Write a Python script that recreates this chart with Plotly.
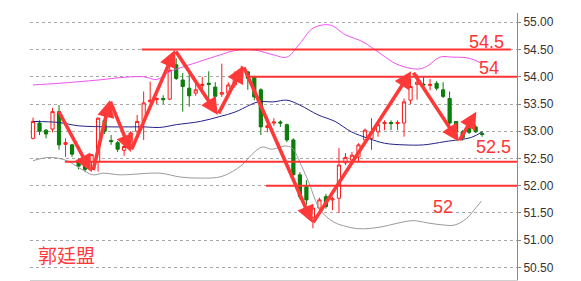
import plotly.graph_objects as go

# ---- candle data ----
opens = [52.87, 53.15, 53.02, 53.04, 53.36, 52.76, 52.75, 52.45, 52.38, 52.44,
         52.44, 53.20, 52.83, 52.79, 52.65, 52.75, 53.00, 53.18, 53.54, 53.58,
         53.60, 53.59, 54.22, 53.94, 53.79, 53.70, 53.84, 53.88, 53.81, 53.68,
         53.70, 53.85, 53.98, 54.09, 54.00, 53.76, 53.07, 53.15, 53.17, 53.12,
         52.84, 52.20, 51.98, 51.42, 51.59, 51.80, 51.74, 51.77, 52.42, 52.47,
         52.53, 52.84, 52.87, 52.99, 53.14, 53.16, 53.14, 53.15, 53.57, 53.86,
         53.86, 53.84, 53.88, 53.76, 53.60, 53.18, 52.99, 53.05, 53.08, 52.96]
highs = [53.25, 53.20, 53.04, 53.43, 53.48, 52.87, 52.77, 52.50, 52.42, 52.58,
         53.25, 53.30, 52.93, 52.82, 52.80, 53.00, 53.30, 53.73, 53.91, 53.62,
         53.66, 54.20, 54.34, 54.07, 54.09, 53.88, 54.00, 54.10, 53.90, 54.24,
         53.90, 54.10, 54.20, 54.10, 54.02, 53.79, 53.27, 53.24, 53.20, 53.14,
         52.87, 52.25, 52.10, 51.65, 51.78, 51.85, 51.80, 52.69, 52.60, 52.62,
         52.78, 53.05, 53.24, 53.12, 53.20, 53.20, 53.20, 53.60, 53.97, 54.05,
         54.00, 53.96, 53.92, 53.90, 53.73, 53.18, 53.02, 53.12, 53.12, 53.00]
lows = [52.85, 52.93, 52.87, 52.98, 52.66, 52.53, 52.53, 52.30, 52.25, 52.26,
        52.26, 52.95, 52.75, 52.62, 52.55, 52.70, 52.95, 52.84, 53.52, 53.50,
        53.50, 53.57, 53.94, 53.36, 53.45, 53.65, 53.75, 53.60, 53.58, 53.63,
        53.65, 53.80, 53.95, 53.76, 53.57, 52.93, 52.98, 53.10, 53.08, 52.80,
        52.29, 51.75, 51.65, 51.22, 51.55, 51.58, 51.55, 51.50, 52.38, 52.40,
        52.45, 52.78, 52.66, 52.90, 53.02, 53.02, 53.02, 52.90, 53.50, 53.58,
        53.82, 53.75, 53.75, 53.61, 53.02, 52.90, 52.83, 52.95, 52.97, 52.90]
closes = [53.18, 53.00, 52.95, 53.36, 52.75, 52.79, 52.58, 52.36, 52.30, 52.57,
          53.24, 53.00, 52.81, 52.67, 52.72, 52.97, 53.18, 53.52, 53.57, 53.60,
          53.58, 54.12, 53.97, 53.82, 53.65, 53.76, 53.86, 53.86, 53.64, 53.71,
          53.85, 54.00, 54.12, 53.97, 53.63, 53.08, 53.10, 53.17, 53.15, 52.84,
          52.20, 51.80, 51.74, 51.59, 51.74, 51.62, 51.76, 52.38, 52.52, 52.56,
          52.75, 53.02, 52.99, 53.12, 53.16, 53.14, 53.16, 53.54, 53.82, 53.90,
          53.85, 53.86, 53.79, 53.64, 53.15, 52.99, 52.88, 52.98, 52.99, 52.94]
candle_idx = list(range(len(opens)))

# ---- Bollinger bands (read points; candle index, value) ----
upper_idx = [0, 4, 10, 14, 17, 19, 21, 25.6, 28.7, 31, 34, 37, 39, 41, 43, 45.6,
             48, 50.7, 53.3, 55.9, 59, 60.5, 62.5, 64.5, 67, 69]
upper_val = [53.85, 53.88, 53.94, 53.99, 54.00, 53.95, 54.09, 54.28, 54.40, 54.48,
             54.49, 54.40, 54.36, 54.61, 54.89, 54.95, 54.77, 54.64, 54.43, 54.23,
             54.14, 54.19, 54.36, 54.36, 54.34, 54.24]
middle_idx = [0, 4, 7, 12, 17, 19.5, 22, 25.7, 28.7, 31, 33.3, 34.6, 37, 39, 41,
              43.8, 46.4, 48.9, 51.5, 54, 57, 60, 63.3, 67.4, 69]
middle_val = [53.18, 53.16, 53.10, 53.08, 53.08, 53.07, 53.12, 53.18, 53.27, 53.35,
              53.48, 53.54, 53.54, 53.57, 53.48, 53.30, 53.18, 52.99, 52.87, 52.78,
              52.75, 52.75, 52.81, 52.89, 52.99]
lower_idx = [0, 2.6, 5.2, 7.2, 9.2, 10.8, 13.4, 19.5, 22.6, 25.7, 29, 32.1, 33.6,
             35.2, 36.7, 38.7, 39.8, 41.3, 42.4, 44.1, 46.1, 48.2, 50.2, 53.3, 55.9,
             58.4, 60.5, 63, 64.8, 66.6, 68.2, 68.9]
lower_val = [52.46, 52.52, 52.46, 52.32, 52.20, 52.23, 52.20, 52.23, 52.16, 52.14,
             52.17, 52.38, 52.57, 52.71, 52.67, 52.73, 52.69, 52.35, 52.05, 51.56,
             51.34, 51.25, 51.21, 51.24, 51.31, 51.36, 51.32, 51.28, 51.28, 51.40,
             51.62, 51.72]

# ---- support / resistance levels ----
level_values = [54.5, 54.0, 52.44, 52.0]
level_from = [16.7, 33.0, 4.9, 35.8]
level_to = [73.4, 74.4, 74.4, 74.4]
level_labels = ["54.5", "54", "52.5", "52"]
label_idx = [69.7, 70.0, 70.7, 63.0]
label_val = [54.64, 54.16, 52.71, 51.61]

# ---- arrows (tail -> head) ----
arrow_from_idx = [3.84, 9.2, 11.8, 15.05, 21.8, 28.4, 32.3, 42.9, 58.3, 65.4]
arrow_from_val = [53.39, 52.26, 53.57, 52.64, 54.49, 53.30, 54.20, 51.30, 54.10, 52.81]
arrow_to_idx = [8.9, 11.8, 15.05, 21.8, 28.4, 32.3, 42.9, 58.1, 65.4, 68.1]
arrow_to_val = [52.26, 53.57, 52.62, 54.49, 53.30, 54.20, 51.32, 54.10, 52.81, 53.36]

watermark = "郭廷盟"
y_ticks = [50.5, 51.0, 51.5, 52.0, 52.5, 53.0, 53.5, 54.0, 54.5, 55.0]

XMIN, XMAX = -0.46, 74.35
YMIN, YMAX = 50.27, 55.17
RED = "#ff3333"

fig = go.Figure()

fig.add_trace(go.Scatter(x=upper_idx, y=upper_val, mode="lines",
                         line=dict(color="#f050f0", width=1, shape="spline"),
                         hoverinfo="skip", showlegend=False))
fig.add_trace(go.Scatter(x=middle_idx, y=middle_val, mode="lines",
                         line=dict(color="#22228a", width=1, shape="spline"),
                         hoverinfo="skip", showlegend=False))
fig.add_trace(go.Scatter(x=lower_idx, y=lower_val, mode="lines",
                         line=dict(color="#9a9a9a", width=1, shape="spline"),
                         hoverinfo="skip", showlegend=False))

fig.add_trace(go.Candlestick(
    x=candle_idx, open=opens, high=highs, low=lows, close=closes,
    increasing=dict(line=dict(color="#ff1a1a", width=1), fillcolor="#ffffff"),
    decreasing=dict(line=dict(color="#0a7a0a", width=1), fillcolor="#0a800a"),
    whiskerwidth=0, showlegend=False,
))

shapes = []
for v, a, b in zip(level_values, level_from, level_to):
    shapes.append(dict(type="line", xref="x", yref="y", x0=a, x1=min(b, XMAX),
                       y0=v, y1=v, line=dict(color=RED, width=2), layer="above"))

annotations = []
for ti, tv, hi, hv in zip(arrow_from_idx, arrow_from_val, arrow_to_idx, arrow_to_val):
    annotations.append(dict(x=hi, y=hv, ax=ti, ay=tv, xref="x", yref="y",
                            axref="x", ayref="y", text="", showarrow=True,
                            arrowhead=2, arrowsize=0.95, arrowwidth=3.6,
                            arrowcolor="#ff3838", standoff=0, startstandoff=0))
for t, xi, yv in zip(level_labels, label_idx, label_val):
    annotations.append(dict(x=xi, y=yv, xref="x", yref="y", text=t, showarrow=False,
                            xanchor="center", yanchor="middle",
                            font=dict(family="Liberation Sans", size=18, color=RED)))
annotations.append(dict(x=0.0123, y=0.097, xref="paper", yref="paper", text=watermark,
                        showarrow=False, xanchor="left", yanchor="middle",
                        font=dict(family="Noto Sans CJK SC", size=19, color="#ff3a3a")))

fig.update_layout(
    width=581, height=281,
    margin=dict(l=30, r=64, t=13, b=1),
    paper_bgcolor="#ffffff", plot_bgcolor="#ffffff",
    shapes=shapes, annotations=annotations,
    showlegend=False, boxgap=0.3,
    xaxis=dict(range=[XMIN, XMAX], showgrid=False, zeroline=False,
               showticklabels=False, ticks="", showline=True,
               linecolor="#d0d0d0", linewidth=1, rangeslider=dict(visible=False),
               fixedrange=True),
    yaxis=dict(range=[YMIN, YMAX], side="right", tickvals=y_ticks,
               tickformat=".2f", showgrid=True, gridcolor="#a8a8a8",
               griddash="dot", gridwidth=1, zeroline=False, showline=True,
               linecolor="#8a8a8a", linewidth=1, ticks="outside", ticklen=3,
               tickcolor="#8a8a8a",
               tickfont=dict(family="Liberation Sans", size=12, color="#333333"),
               fixedrange=True),
)

fig.write_html("out.html")
